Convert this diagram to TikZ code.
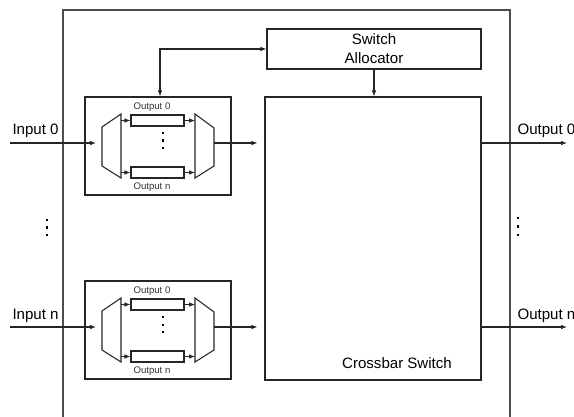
\documentclass[tikz,border=0pt]{standalone}
\usepackage{fontspec}
\setmainfont{Liberation Sans}
\usetikzlibrary{arrows.meta}
\begin{document}
\begin{tikzpicture}[x=0.75pt,y=-0.75pt, line width=0.8pt, draw=black!85,
  >={Latex[length=4.5pt,width=3.5pt]},
  box/.style={draw=black!85, rectangle, inner sep=0pt},
  lbl/.style={font=\fontsize{11.3}{14.3}\selectfont, inner sep=0pt},
  small/.style={font=\fontsize{7.2}{8.6}\selectfont, inner sep=0pt, text=black!80},
  dotm/.style={fill=black}]
\useasboundingbox (0,0) rectangle (574,417);
% outer router box (open at bottom)
\draw[line width=1.1pt, draw=black!70] (63,417) -- (63,10) -- (510,10) -- (510,417);
% switch allocator and crossbar
\node[box, lbl, minimum width=214*0.75pt, minimum height=40*0.75pt, align=center] (alloc) at (374,49) {Switch\\Allocator};
\node[box, minimum width=216*0.75pt, minimum height=283*0.75pt] (xbar) at (373,238.5) {};
\node[lbl] (xlbl) at (397,363) {Crossbar Switch};
\draw[->] (alloc.south) -- (alloc.south |- xbar.north);
% input ports
\foreach \off/\n in {0/0,184/n}{
  \begin{scope}[shift={(0,\off)}]
    \node[box, minimum width=146*0.75pt, minimum height=98*0.75pt] (buf\n) at (158,146) {};
    \coordinate (in\n) at (10,143);
    \node[lbl, anchor=base west] (inl\n) at (12,135) {Input \n};
    % demux
    \draw (102,127) -- (121,114) -- (121,178) -- (102,166) -- cycle;
    \coordinate (dmxl\n) at (102,143);
    \coordinate (dmxr\n) at (121,143);
    % queues
    \node[box, minimum width=53*0.75pt, minimum height=11*0.75pt] (qa\n) at (157.5,120.5) {};
    \node[box, minimum width=53*0.75pt, minimum height=11*0.75pt] (qb\n) at (157.5,172.5) {};
    \node[small] (qal\n) at (152,107) {Output 0};
    \node[small] (qbl\n) at (152,187) {Output n};
    \fill[dotm] (162,132) rectangle +(2.4,2.4);
    \fill[dotm] (162,139.5) rectangle +(2.4,2.4);
    \fill[dotm] (162,147) rectangle +(2.4,2.4);
    % mux
    \draw (195,114) -- (214,128) -- (214,166) -- (195,178) -- cycle;
    \coordinate (muxl\n) at (195,143);
    \coordinate (muxr\n) at (214,143);
    % connectors
    \draw[->, shorten >=6*0.75pt] (in\n) -- (dmxl\n);
    \draw[->] (qa\n.west -| dmxr\n) -- (qa\n.west);
    \draw[->] (qb\n.west -| dmxr\n) -- (qb\n.west);
    \draw[->] (qa\n.east) -- (qa\n.east -| muxl\n);
    \draw[->] (qb\n.east) -- (qb\n.east -| muxl\n);
    \draw[->, shorten >=7*0.75pt] (muxr\n) -- (muxr\n -| xbar.west);
    % output port
    \coordinate (out\n) at (567,143);
    \draw[->] (xbar.east |- out\n) -- (out\n);
    \node[lbl, anchor=base west] (outl\n) at (517,135) {Output \n};
  \end{scope}
}
% feedback between input buffer and allocator
\coordinate (fb) at (160,97);
\draw[<->] (buf0.north -| fb) |- (alloc.west);
% vertical ellipsis between ports
\fill[dotm] (45.8,218.8) rectangle +(2.4,2.4);
\fill[dotm] (45.8,226.3) rectangle +(2.4,2.4);
\fill[dotm] (45.8,233.8) rectangle +(2.4,2.4);
\fill[dotm] (516.8,216.8) rectangle +(2.4,2.4);
\fill[dotm] (516.8,225.3) rectangle +(2.4,2.4);
\fill[dotm] (516.8,233.8) rectangle +(2.4,2.4);
\end{tikzpicture}
\end{document}
